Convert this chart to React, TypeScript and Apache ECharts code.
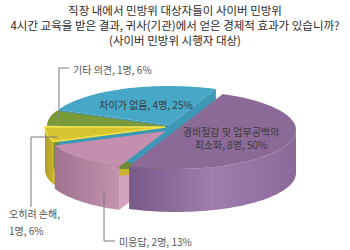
import React, { useEffect, useRef } from 'react';
import * as echarts from 'echarts';

const titleLines = [
  '직장 내에서 민방위 대상자들이 사이버 민방위',
  '4시간 교육을 받은 결과, 귀사(기관)에서 얻은 경제적 효과가 있습니까?',
  '(사이버 민방위 시행자 대상)',
];
const categories = ['경비절감 및 업무공백의 최소화', '미응답', '오히려 손해', '기타 의견', '차이가 없음'];
const counts = [8, 2, 1, 1, 4];
const unit = '명';

// layout / style constants
const FONT = '"Noto Sans CJK KR", "Noto Sans", sans-serif';
const TITLE_Y = [10, 25, 39.5];
const CX = 168, CY = 126, RX = 120, RY = 39, DEPTH = 43;
const START_DEG = -67;
const OFFSETS = [[8, 4], [-2, 5], [-3, 1], [-1, 0], [1, -1]];
const TOP_COLORS = ['#8b6a98', '#c48fae', '#d8c431', '#7a9a3a', '#47a7c7'];
const WALL_STOPS = [
  ['#785988', '#a07caf', '#8b6a9a'],
  ['#9f7290', '#c493b0'],
  ['#b09d22', '#c9b42c'],
  ['#66802f', '#6d8a33'],
  ['#3a8eaa', '#3e97b5'],
];
const FACE_COLORS = ['#7d5d8c', '#d3a2be', '#c9b530', '#6d8a33', '#3e97b5'];
const TOP_STROKE = [null, null, '#f2e244', null, null];
const LABEL_BREAK_AFTER = ['업무공백의', null, '손해,', null, null];
const LABELS = [
  { x: 231, y: 131, align: 'center', lineGap: 13.5, fill: '#3a3a3a' },
  { x: 119, y: 241, align: 'left', lineGap: 13, fill: '#555' },
  { x: 9, y: 213.5, align: 'left', lineGap: 16.5, fill: '#555' },
  { x: 73, y: 69, align: 'left', lineGap: 13, fill: '#555' },
  { x: 146, y: 104, align: 'center', lineGap: 13, fill: '#3a3a3a' },
];
const LEADERS: (number[][] | null)[] = [
  null,
  [[104, 190], [104, 241], [115, 241]],
  [[58, 137], [31, 137], [31, 207]],
  [[59, 118], [59, 68], [69, 68]],
  null,
];

const total = counts.reduce((a, b) => a + b, 0);

function arc(cx: number, cy: number, s: number, e: number, dy = 0) {
  const n = Math.max(2, Math.ceil(Math.abs(e - s) / (Math.PI / 90)));
  const pts: number[][] = [];
  for (let k = 0; k <= n; k++) {
    const a = s + ((e - s) * k) / n;
    pts.push([cx + RX * Math.cos(a), cy + RY * Math.sin(a) + dy]);
  }
  return pts;
}

function renderItem(params: any, api: any) {
  const i = params.dataIndex;
  const v = api.value(0);
  let before = 0;
  for (let j = 0; j < i; j++) before += counts[j];
  const a1 = ((START_DEG + (before / total) * 360) * Math.PI) / 180;
  const a2 = ((START_DEG + ((before + v) / total) * 360) * Math.PI) / 180;
  const cx = CX + OFFSETS[i][0];
  const cy = CY + OFFSETS[i][1];
  const children: any[] = [];

  // outer wall (front half only)
  for (let k = -1; k <= 1; k++) {
    const lo = Math.max(a1, 2 * Math.PI * k);
    const hi = Math.min(a2, 2 * Math.PI * k + Math.PI);
    if (hi > lo) {
      const top = arc(cx, cy, lo, hi);
      const bot = arc(cx, cy, lo, hi, DEPTH).reverse();
      const stops = WALL_STOPS[i];
      children.push({
        type: 'polygon',
        z2: 10,
        shape: { points: top.concat(bot) },
        style: {
          fill: new echarts.graphic.LinearGradient(
            0, 0, 1, 0,
            stops.map((c, idx) => ({ offset: stops.length === 1 ? 0 : idx / (stops.length - 1), color: c }))
          ),
        },
      });
    }
  }
  // cut faces
  const face = (a: number) => {
    const px = cx + RX * Math.cos(a);
    const py = cy + RY * Math.sin(a);
    children.push({
      type: 'polygon',
      z2: 5,
      shape: { points: [[cx, cy], [px, py], [px, py + DEPTH], [cx, cy + DEPTH]] },
      style: { fill: FACE_COLORS[i] },
    });
  };
  if (Math.cos(a1) < 0) face(a1);
  if (Math.cos(a2) > 0) face(a2);

  // top
  children.push({
    type: 'polygon',
    z2: 100,
    shape: { points: [[cx, cy]].concat(arc(cx, cy, a1, a2)) },
    style: TOP_STROKE[i]
      ? { fill: TOP_COLORS[i], stroke: TOP_STROKE[i], lineWidth: 1.5 }
      : { fill: TOP_COLORS[i] },
  });

  // label
  const pct = Math.round((v / total) * 100);
  let text = `${categories[i]}, ${v}${unit}, ${pct}%`;
  const br = LABEL_BREAK_AFTER[i];
  if (br) text = text.replace(br + ' ', br + '\n');
  const L = LABELS[i];
  text.split('\n').forEach((line, li) => {
    children.push({
      type: 'text',
      z2: 200,
      x: L.x,
      y: L.y + li * L.lineGap,
      style: {
        text: line,
        fill: L.fill,
        fontSize: 10,
        fontFamily: FONT,
        align: L.align,
        verticalAlign: 'middle',
      },
    });
  });
  const ld = LEADERS[i];
  if (ld) {
    children.push({
      type: 'polyline',
      z2: 200,
      shape: { points: ld },
      style: { stroke: '#7a7a7a', fill: null, lineWidth: 1 },
    });
  }
  return { type: 'group', children };
}

export default function App() {
  const ref = useRef<HTMLDivElement>(null);
  useEffect(() => {
    if (!ref.current) return;
    const chart = echarts.init(ref.current, null, { renderer: 'svg' });
    chart.setOption({
      animation: false,
      backgroundColor: '#ffffff',
      graphic: titleLines.map((t, k) => ({
        type: 'text',
        x: 175,
        y: TITLE_Y[k],
        style: {
          text: t,
          fill: '#2b2b2b',
          fontSize: 11.5,
          fontFamily: FONT,
          align: 'center',
          verticalAlign: 'middle',
        },
      })),
      series: [
        {
          type: 'custom',
          coordinateSystem: 'none',
          renderItem,
          data: counts.map((c) => [c]),
        },
      ],
    });
    return () => chart.dispose();
  }, []);
  return (
    <div
      ref={ref}
      style={{ position: 'fixed', left: 0, top: 0, width: 350, height: 250 }}
    />
  );
}
